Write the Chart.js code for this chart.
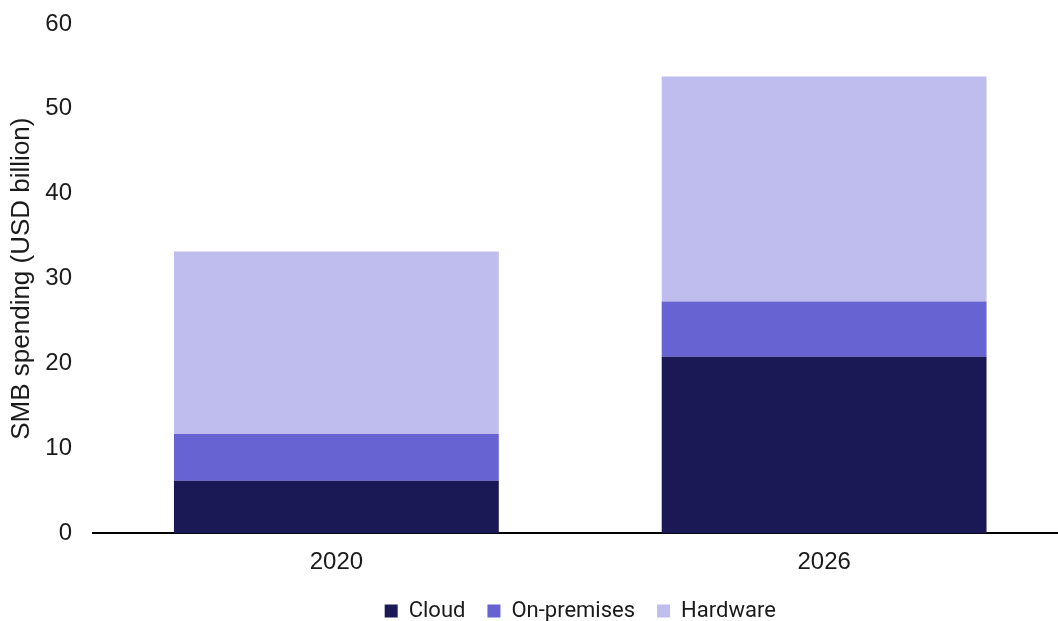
<!DOCTYPE html>
<html>
<head>
<meta charset="utf-8">
<script src="https://cdn.jsdelivr.net/npm/chart.js@4/dist/chart.umd.min.js"></script>
<style>
html,body{margin:0;padding:0;background:#fff;overflow:hidden;width:1058px;height:621px;}
canvas{display:block;margin-top:-3px;}
</style>
</head>
<body>
<canvas id="c" width="1070" height="635"></canvas>
<script>
const categories = ["2020", "2026"];
const cloud = [6.2, 20.8];
const onPremises = [5.5, 6.5];
const hardware = [21.5, 26.5];
const yTicks = [0, 10, 20, 30, 40, 50, 60];

const ctx = document.getElementById('c');
new Chart(ctx, {
  type: 'bar',
  data: {
    labels: categories,
    datasets: [
      {label: 'Cloud', data: cloud, backgroundColor: '#1b1856'},
      {label: 'On-premises', data: onPremises, backgroundColor: '#6763d3'},
      {label: 'Hardware', data: hardware, backgroundColor: '#bfbded'}
    ]
  },
  options: {
    responsive: false,
    animation: false,
    layout: {padding: {top: -1, right: 2, bottom: 0, left: 2}},
    datasets: {bar: {categoryPercentage: 0.666, barPercentage: 1.0}},
    plugins: {
      legend: {
        position: 'bottom',
        fullSize: false,
        labels: {
          boxWidth: 13, boxHeight: 13, padding: 22,
          color: '#1a1a1a',
          font: {family: 'Roboto', size: 22}
        }
      },
      tooltip: {enabled: false}
    },
    scales: {
      x: {
        stacked: true,
        grid: {display: false},
        border: {display: true, color: '#000', width: 2},
        ticks: {color: '#1a1a1a', font: {family: 'Liberation Sans', size: 24}, padding: 6.6},
        afterFit: (scale) => { scale.height = 44.6; }
      },
      y: {
        stacked: true,
        min: yTicks[0], max: yTicks[yTicks.length - 1],
        grid: {display: false},
        border: {display: false},
        ticks: {stepSize: yTicks[1] - yTicks[0], color: '#1a1a1a', font: {family: 'Liberation Sans', size: 24}, padding: 12.5},
        title: {display: true, text: 'SMB spending (USD billion)', color: '#1a1a1a', font: {family: 'Liberation Sans', size: 26}, padding: {top: 4, bottom: 8}},
        afterFit: (scale) => { scale.width = 90.5; }
      }
    }
  }
});
</script>
</body>
</html>
